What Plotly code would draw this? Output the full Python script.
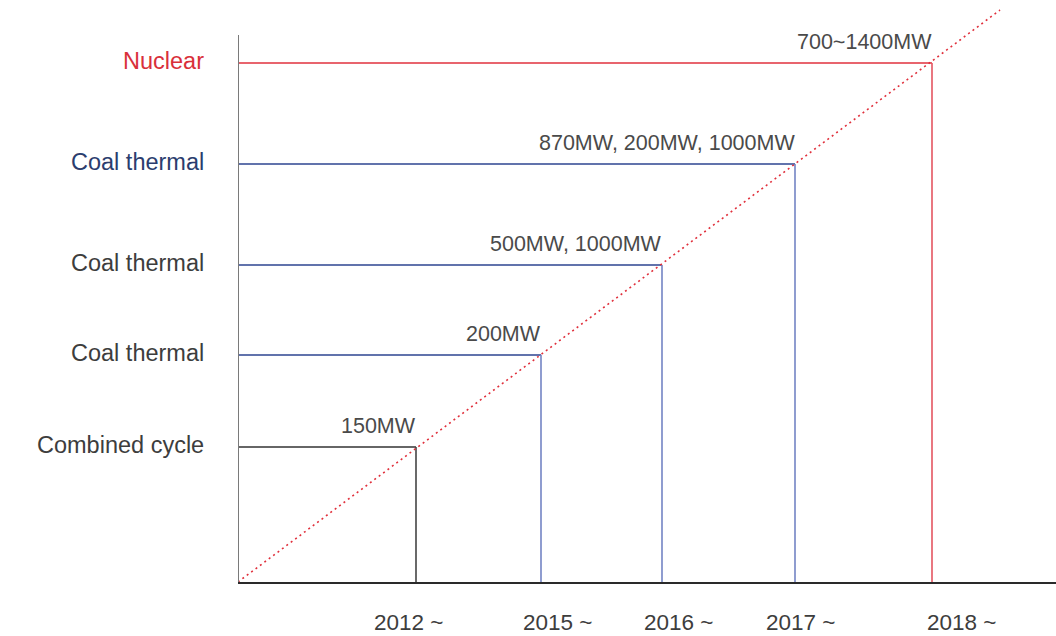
import plotly.graph_objects as go

# Data (units: relative position along axes)
plant_types = ["Combined cycle", "Coal thermal", "Coal thermal", "Coal thermal", "Nuclear"]
capacities = ["150MW", "200MW", "500MW, 1000MW", "870MW, 200MW, 1000MW", "700~1400MW"]
years = ["2012 ~", "2015 ~", "2016 ~", "2017 ~", "2018 ~"]
step_x = [178, 303, 424, 557, 694]
step_y = [135, 227, 317, 418, 519]
year_label_x = [170, 319, 440, 562, 723]
trend_x = [0, 762]
trend_y = [0, 572]

h_colors = ["#333333", "#2c4591", "#2c4591", "#2c4591", "#e0303c"]
v_colors = ["#444444", "#7384c4", "#7384c4", "#7384c4", "#e45561"]
label_colors = ["#3d3d3d", "#3d3d3d", "#3d3d3d", "#2b3d6e", "#d9303a"]

FONT = "Liberation Sans, Arial, sans-serif"

fig = go.Figure()

for i in range(len(step_x)):
    fig.add_trace(go.Scatter(x=[0, step_x[i]], y=[step_y[i], step_y[i]], mode="lines",
                             line=dict(color=h_colors[i], width=1.6), hoverinfo="skip", showlegend=False))
    fig.add_trace(go.Scatter(x=[step_x[i], step_x[i]], y=[step_y[i], 0], mode="lines",
                             line=dict(color=v_colors[i], width=1.6), hoverinfo="skip", showlegend=False))

fig.add_trace(go.Scatter(x=trend_x, y=trend_y, mode="lines",
                         line=dict(color="#e0303c", width=1.6, dash="2px,3.5px"),
                         hoverinfo="skip", showlegend=False))

annotations = []
for i in range(len(step_x)):
    annotations.append(dict(x=0, y=step_y[i], xref="x", yref="y", text=plant_types[i],
                            showarrow=False, xanchor="right", yanchor="middle", xshift=-32, yshift=2,
                            font=dict(family=FONT, size=23.5, color=label_colors[i])))
    annotations.append(dict(x=step_x[i], y=step_y[i], xref="x", yref="y", text=capacities[i],
                            showarrow=False, xanchor="right", yanchor="bottom", xshift=2, yshift=7,
                            font=dict(family=FONT, size=21.5, color="#4a4a4a")))
    annotations.append(dict(x=year_label_x[i], y=0, xref="x", yref="y", text=years[i],
                            showarrow=False, xanchor="center", yanchor="middle", yshift=-40,
                            font=dict(family=FONT, size=22.5, color="#3d3d3d")))

fig.update_layout(
    width=1056, height=636,
    margin=dict(l=238, r=0, t=0, b=54),
    paper_bgcolor="white", plot_bgcolor="white",
    xaxis=dict(range=[0, 818], showgrid=False, zeroline=False, showticklabels=False,
               showline=True, linecolor="#2a2a2a", linewidth=2, fixedrange=True),
    yaxis=dict(range=[0, 582], showgrid=False, zeroline=False, showticklabels=False,
               showline=False, fixedrange=True),
    annotations=annotations,
    shapes=[dict(type="line", xref="x", yref="y", x0=0, x1=0, y0=0, y1=547,
                 line=dict(color="#7a7a7a", width=2))],
)

fig.write_html("out.html", config={"displayModeBar": False},
               post_script="document.body.style.margin='0';document.body.style.padding='0';document.body.style.overflow='hidden';")
